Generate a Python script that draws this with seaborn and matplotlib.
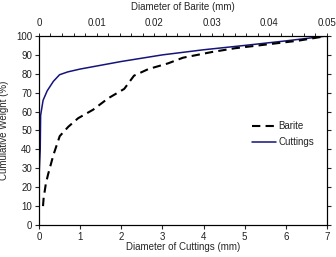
import numpy as np
import matplotlib
matplotlib.use("Agg")
import matplotlib.pyplot as plt
import seaborn as sns

# cuttings particle size distribution (bottom axis, mm)
cuttings_d = [0.0, 0.0, 0.03, 0.04, 0.1, 0.2, 0.35, 0.5, 0.7, 1.0, 1.5, 2.0, 3.0, 4.0, 5.0, 6.0, 7.0]
cuttings_w = [10, 40, 40, 58, 66, 71, 76, 79.5, 81, 82.5, 84.5, 86.5, 90, 92.7, 95, 97.4, 100]

# barite particle size distribution (top axis, mm)
barite_d = [0.0007, 0.0008, 0.0012, 0.0016, 0.0025, 0.0036, 0.0051, 0.0068, 0.0094,
            0.012, 0.0148, 0.0165, 0.019, 0.0224, 0.025, 0.030, 0.034, 0.0395, 0.045, 0.05]
barite_w = [10, 14, 22, 27, 37, 47, 52, 56.5, 61, 67, 72, 79, 82.5, 85.5, 88.5, 91.5,
            93.5, 95.5, 97.5, 100]

bottom_ticks = list(range(0, 8))
top_ticks = [0, 0.01, 0.02, 0.03, 0.04, 0.05]
top_labels = ["0", "0.01", "0.02", "0.03", "0.04", "0.05"]
y_ticks = list(range(0, 101, 10))

sns.set_style("ticks")
plt.rcParams['font.family'] = ['Liberation Sans', 'DejaVu Sans']
plt.rcParams['font.size'] = 7
plt.rcParams['text.color'] = '#222222'
plt.rcParams['xtick.labelcolor'] = '#222222'
plt.rcParams['ytick.labelcolor'] = '#222222'

fig = plt.figure(figsize=(3.36, 2.57), dpi=100)
ax = fig.add_axes([0.116, 0.1245, 0.857, 0.7355])
ax2 = ax.twiny()

sns.lineplot(x=cuttings_d, y=cuttings_w, ax=ax, sort=False, color='#14147a',
             lw=1.1, label='Cuttings', legend=False)
sns.lineplot(x=barite_d, y=barite_w, ax=ax2, sort=False, color='black',
             lw=1.5, dashes=False, linestyle=(0, (4, 2.5)), label='Barite', legend=False)

ax.set_xlim(0, 7)
ax.set_ylim(0, 100)
ax.set_xticks(bottom_ticks)
ax.set_yticks(y_ticks)
ax.set_xlabel('Diameter of Cuttings (mm)', fontsize=7, labelpad=0)
ax.set_ylabel('Cumulative Weight (%)', fontsize=7, labelpad=5)
ax.tick_params(axis='both', labelsize=7, length=3, width=0.8, pad=2, direction='out')
ax.tick_params(axis='y', right=True, labelright=False)

ax2.set_xlim(0, 0.05)
ax2.set_xticks(top_ticks)
ax2.set_xticklabels(top_labels)
ax2.set_xticks(np.arange(0, 0.0501, 0.002), minor=True)
ax2.set_xlabel('Diameter of Barite (mm)', fontsize=7, labelpad=6)
ax2.tick_params(axis='x', which='both', labelsize=7, length=2.5, width=0.7, pad=3, direction='out')

for a in (ax, ax2):
    for s in a.spines.values():
        s.set_visible(True)
        s.set_color('black')
        s.set_linewidth(0.8)

h1, l1 = ax2.get_legend_handles_labels()
h2, l2 = ax.get_legend_handles_labels()
ax.legend(h1 + h2, l1 + l2, frameon=False, loc='center left',
          bbox_to_anchor=(0.71, 0.48), fontsize=7, handlelength=2.4,
          handletextpad=0.3, labelspacing=0.6)

fig.savefig('out.png', dpi=100)
